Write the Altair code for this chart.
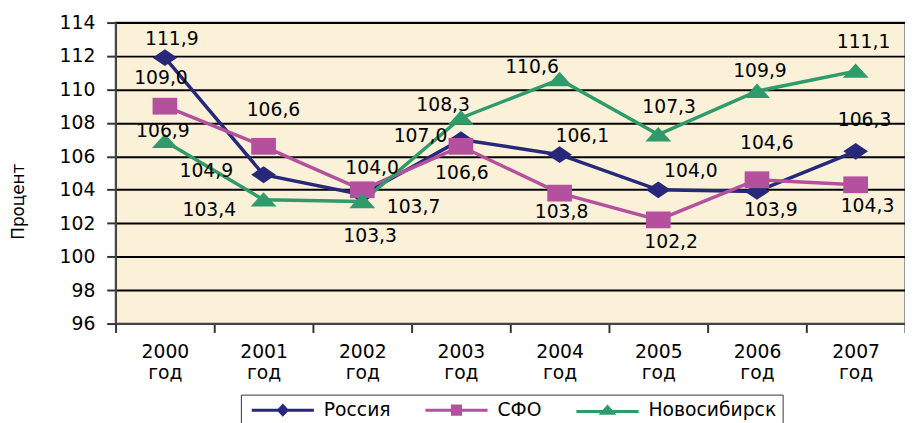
import altair as alt
import pandas as pd

years = ["2000", "2001", "2002", "2003", "2004", "2005", "2006", "2007"]
year_suffix = "год"
series_names = ["Россия", "СФО", "Новосибирск"]
russia = [111.9, 104.9, 103.7, 107.0, 106.1, 104.0, 103.9, 106.3]
sfo = [109.0, 106.6, 104.0, 106.6, 103.8, 102.2, 104.6, 104.3]
novosibirsk = [106.9, 103.4, 103.3, 108.3, 110.6, 107.3, 109.9, 111.1]
y_ticks = [96, 98, 100, 102, 104, 106, 108, 110, 112, 114]

# value-label offsets in pixels, relative to each point
russia_dx = [7, -58, 52, -41, 23, 33, 14, 9]
russia_dy = [-19, -4, 12, -4, -19, -19, 19, -32]
sfo_dx = [-4, 10, 10, 1, 2, 13, 10, 12]
sfo_dy = [-28, -37, -22, 27, 19, 22, -37, 22]
nsk_dx = [-2, -55, 8, -18, -28, 11, 3, 8]
nsk_dy = [-10, 10, 35, -13, -13, -28, -20, -29]

colors = ["#27287A", "#B5509F", "#2F9A6A"]
marker_paths = [
    "M0,-0.68L1,0L0,0.68L-1,0Z",
    "M-1,-0.68H1V0.68H-1Z",
    "M0,-0.62L1.05,0.55L-1.05,0.55Z",
]
# legend glyphs: a short bar (line) plus the marker, both filled
legend_paths = [
    "M-4.5,-0.22H4.5V0.22H-4.5Z M0,-0.95L0.9,0L0,0.95L-0.9,0Z",
    "M-4.5,-0.22H4.5V0.22H-4.5Z M-0.8,-0.8H0.8V0.8H-0.8Z",
    "M-4.5,-0.02H4.5V0.42H-4.5Z M0,-0.8L1.3,0.65L-1.3,0.65Z",
]

W, H = 800, 305
FONT = "DejaVu Sans"

rows = []
for name, vals, dxs, dys in [
    (series_names[0], russia, russia_dx, russia_dy),
    (series_names[1], sfo, sfo_dx, sfo_dy),
    (series_names[2], novosibirsk, nsk_dx, nsk_dy),
]:
    for yr, v, dx, dy in zip(years, vals, dxs, dys):
        rows.append({"year": yr, "series": name, "value": v, "dx": dx, "dy": dy})
df = pd.DataFrame(rows)

ymin, ymax = y_ticks[0], y_ticks[-1]
band = W / len(years)

base = alt.Chart(df)

x_scale = alt.Scale(type="band", paddingInner=0, paddingOuter=0)
x_axis = alt.Axis(
    title=None,
    labelExpr="datum.label ? [datum.label, '" + year_suffix + "'] : ''",
    labelAngle=0,
    labelFont=FONT,
    labelFontSize=19,
    labelColor="black",
    labelLineHeight=22,
    labelPadding=10,
    tickBand="extent",
    tickSize=9,
    tickColor="#333",
    tickWidth=2,
    domainColor="#444",
    domainWidth=2,
    grid=False,
)
y_scale = alt.Scale(domain=[ymin, ymax], nice=False, zero=False)
y_axis = alt.Axis(
    values=y_ticks,
    title="Процент",
    titleFont=FONT,
    titleFontSize=17,
    titleFontWeight="normal",
    titleColor="black",
    titleX=-89,
    titleY=181,
    titleAngle=-90,
    labelFont=FONT,
    labelFontSize=19,
    labelColor="black",
    labelPadding=12,
    labelOverlap=False,
    labelFlush=False,
    tickSize=9,
    tickColor="#333",
    tickWidth=2,
    domainColor="#444",
    domainWidth=2,
    grid=True,
    gridColor="black",
    gridWidth=2,
)

x_enc = alt.X("year:N", sort=years, scale=x_scale, axis=x_axis)
y_enc = alt.Y("value:Q", scale=y_scale, axis=y_axis)

layers = []
for name, col in zip(series_names, colors):
    sub = base.transform_filter(alt.datum.series == name)
    layers.append(sub.mark_line(strokeWidth=3.5, color=col).encode(x=x_enc, y=y_enc))
for name, col, path in zip(series_names, colors, marker_paths):
    sub = base.transform_filter(alt.datum.series == name)
    layers.append(
        sub.mark_point(filled=True, size=625, opacity=1, shape=path, color=col).encode(
            x=x_enc, y=y_enc
        )
    )

labels = base.transform_calculate(
    label="replace(format(datum.value, '.1f'), '.', ',')",
    ly="datum.value - datum.dy * %f / %f" % (ymax - ymin, H),
    lx="datum.dx + %f" % (band / 2),
).mark_text(font=FONT, fontSize=19, color="black", align="center", baseline="middle").encode(
    x=x_enc,
    y=alt.Y("ly:Q", scale=y_scale, axis=y_axis),
    xOffset=alt.XOffset("lx:Q", scale=None),
    text="label:N",
)
layers.append(labels)

legend_def = alt.Legend(
    title=None,
    orient="none",
    legendX=127,
    legendY=377,
    direction="horizontal",
    columns=3,
    symbolSize=196,
    symbolStrokeWidth=0,
    symbolOffset=27,
    labelOffset=32,
    labelFont=FONT,
    labelFontSize=19,
    labelColor="black",
    columnPadding=30,
    padding=6,
    strokeColor="#333",
    fillColor="white",
)

legend_layer = base.transform_filter("datum.value < 0").mark_point(
    filled=True, opacity=1
).encode(
    x=x_enc,
    y=y_enc,
    color=alt.Color("series:N", scale=alt.Scale(domain=series_names, range=colors), legend=legend_def),
    shape=alt.Shape("series:N", scale=alt.Scale(domain=series_names, range=legend_paths), legend=legend_def),
)
layers.append(legend_layer)

chart = (
    alt.layer(*layers)
    .properties(
        width=W,
        height=H,
        autosize=alt.AutoSizeParams(type="none"),
        padding={"left": 109, "top": 12, "right": 0, "bottom": 98},
        background="white",
    )
    .configure_view(fill="#FAF1D8", stroke="#9A9A9A", strokeWidth=2)
)

chart.save("out.html", embed_options={"renderer": "svg", "actions": False})
